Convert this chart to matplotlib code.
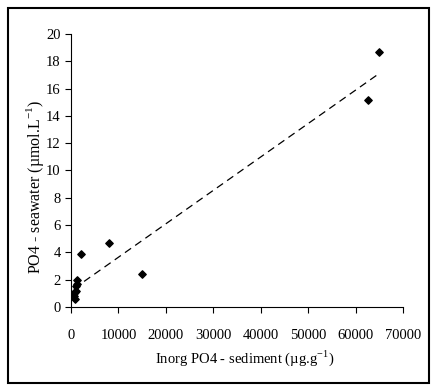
import matplotlib.pyplot as plt
import numpy as np
from matplotlib.patches import Rectangle

plt.rcParams['font.family'] = ['Liberation Serif', 'DejaVu Serif']

sediment = [65000, 62500, 15000, 8000, 2000, 1300, 1200, 1100, 1000, 900, 700, 600, 800]
seawater = [18.7, 15.2, 2.4, 4.7, 3.9, 2.0, 1.7, 1.5, 1.2, 1.1, 1.0, 0.8, 0.55]

fig = plt.figure(figsize=(4.37, 3.91), dpi=100)
ax = fig.add_axes([0.1625, 0.215, 0.76, 0.698])

ax.scatter(sediment, seawater, marker='D', s=14, color='black', zorder=3)

# linear trend line
p = np.polyfit(sediment, seawater, 1)
xs = np.array([min(sediment), max(sediment)])
ax.plot(xs, np.polyval(p, xs), '--', color='black', lw=0.9, dashes=(6, 4))

ax.set_xlim(0, 70000)
ax.set_ylim(0, 20)
ax.set_xticks(np.arange(0, 70001, 10000))
ax.set_yticks(np.arange(0, 21, 2))
ax.spines['top'].set_visible(False)
ax.spines['right'].set_visible(False)
ax.tick_params(direction='out', length=4, labelsize=10.5, width=0.8)
ax.tick_params(axis='x', pad=12)
ax.set_xlabel('Inorg PO4 - sediment (µg.g$^{\\mathregular{-1}}$)', fontsize=10.5)
ax.set_ylabel('PO4 - seawater (µmol.L$^{\\mathregular{-1}}$)', fontsize=11.5)
ax.xaxis.set_label_coords(0.524, -0.15)
ax.yaxis.set_label_coords(-0.075, 0.44)

fig.patches.append(Rectangle((0.018, 0.02), 0.964, 0.96, transform=fig.transFigure,
                             fill=False, edgecolor='black', lw=1.5))

fig.savefig('out.png', dpi=100)
